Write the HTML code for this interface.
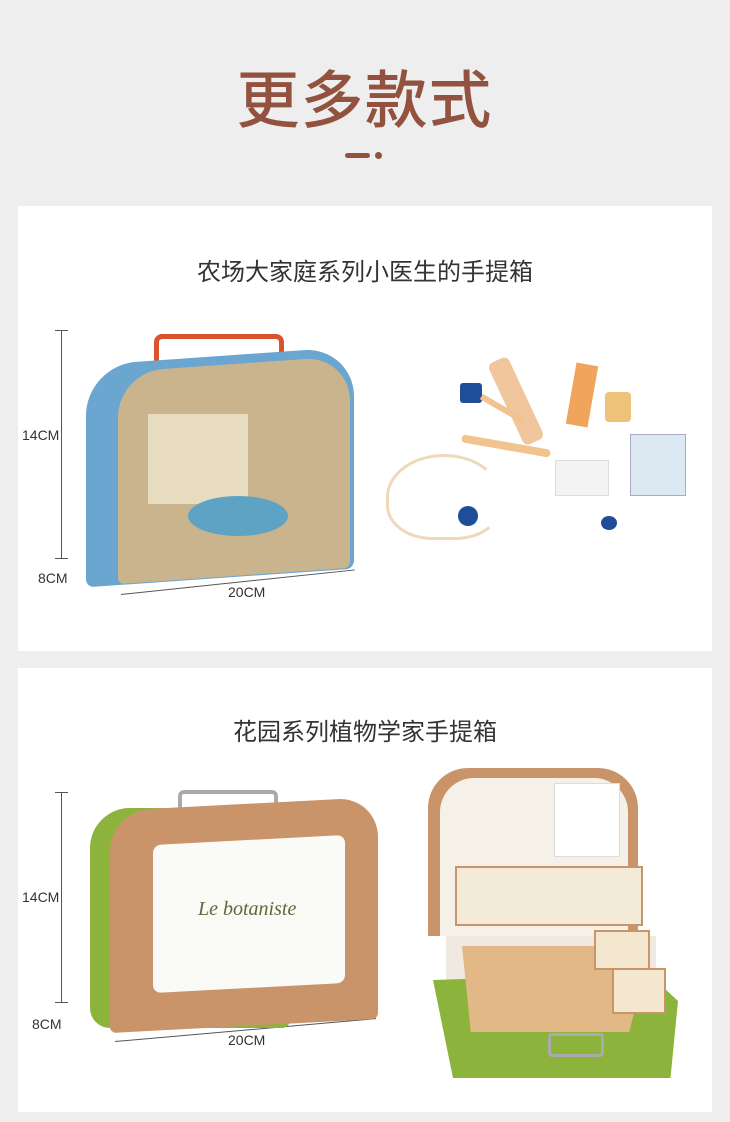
<!DOCTYPE html>
<html><head><meta charset="utf-8"><style>
body{margin:0;width:730px;height:1122px;background:#eeeeee;position:relative;overflow:hidden;font-family:"Liberation Sans","Noto Sans CJK SC",sans-serif}
.a{position:absolute}
.card{position:absolute;left:18px;width:694px;background:#fff}
.h{position:absolute;left:0;width:694px;text-align:center;font-size:24px;color:#333}
.lbl{position:absolute;font-size:14px;color:#333}
.ln{position:absolute;background:#555}
</style></head><body>
<div class="a" style="left:0;top:50px;width:730px;text-align:center;font-size:62px;color:#92523f;letter-spacing:2px;-webkit-text-stroke:1px #92523f">更多款式</div>
<div class="a" style="left:345px;top:153px;width:25px;height:5px;border-radius:3px;background:#92523f"></div>
<div class="a" style="left:375px;top:152px;width:7px;height:7px;border-radius:50%;background:#92523f"></div>

<div class="card" style="top:206px;height:445px">
 <div class="h" style="top:46px">农场大家庭系列小医生的手提箱</div>
 <div class="ln" style="left:43px;top:124px;width:1px;height:228px"></div>
 <div class="ln" style="left:37px;top:124px;width:13px;height:1px"></div>
 <div class="ln" style="left:37px;top:352px;width:13px;height:1px"></div>
 <div class="lbl" style="left:4px;top:221px">14CM</div>
 <div class="lbl" style="left:20px;top:364px">8CM</div>
 <div class="lbl" style="left:210px;top:378px">20CM</div>
 <div class="ln" style="left:103px;top:388px;width:235px;height:1px;transform:rotate(-6deg);transform-origin:left"></div>
 <div class="a" style="left:136px;top:128px;width:120px;height:40px;border:5px solid #d9532e;border-bottom:none;border-radius:8px 8px 0 0"></div>
 <div class="a" style="left:68px;top:150px;width:268px;height:222px;background:#6aa6cf;border-radius:50px 50px 8px 8px;transform:skewY(-4deg)"></div>
 <div class="a" style="left:100px;top:158px;width:232px;height:212px;background:#c9b48e;border-radius:45px 45px 6px 6px;transform:skewY(-4deg)"></div>
 <div class="a" style="left:130px;top:208px;width:100px;height:90px;background:#e7dcc0"></div>
 <div class="a" style="left:170px;top:290px;width:100px;height:40px;background:#5ea3c4;border-radius:50%"></div>
 <div class="a" style="left:487px;top:150px;width:22px;height:90px;background:#f0c69c;border-radius:6px;transform:rotate(-25deg)"></div>
 <div class="a" style="left:553px;top:158px;width:22px;height:62px;background:#f0a55c;transform:rotate(10deg)"></div>
 <div class="a" style="left:587px;top:186px;width:26px;height:30px;background:#efc27a;border-radius:4px"></div>
 <div class="a" style="left:442px;top:177px;width:22px;height:20px;background:#1f4d9a;border-radius:3px"></div>
 <div class="a" style="left:460px;top:200px;width:50px;height:6px;background:#f1c38d;transform:rotate(30deg)"></div>
 <div class="a" style="left:612px;top:228px;width:54px;height:60px;background:#dce9f2;border:1px solid #aac"></div>
 <div class="a" style="left:537px;top:254px;width:52px;height:34px;background:#f3f3f3;border:1px solid #ddd"></div>
 <div class="a" style="left:443px;top:236px;width:90px;height:8px;background:#f1c38d;border-radius:4px;transform:rotate(10deg)"></div>
 <div class="a" style="left:368px;top:248px;width:110px;height:80px;border:3px solid #eed9b8;border-radius:50% 50% 40% 40%;border-right-color:transparent"></div>
 <div class="a" style="left:440px;top:300px;width:20px;height:20px;background:#1f4d9a;border-radius:50%"></div>
 <div class="a" style="left:583px;top:310px;width:16px;height:14px;background:#1f4d9a;border-radius:50%"></div>
</div>

<div class="card" style="top:668px;height:444px">
 <div class="h" style="top:44px">花园系列植物学家手提箱</div>
 <div class="ln" style="left:43px;top:124px;width:1px;height:210px"></div>
 <div class="ln" style="left:37px;top:124px;width:13px;height:1px"></div>
 <div class="ln" style="left:37px;top:334px;width:13px;height:1px"></div>
 <div class="lbl" style="left:4px;top:221px">14CM</div>
 <div class="lbl" style="left:14px;top:348px">8CM</div>
 <div class="lbl" style="left:210px;top:364px">20CM</div>
 <div class="ln" style="left:97px;top:373px;width:262px;height:1px;transform:rotate(-5deg);transform-origin:left"></div>
 <div class="a" style="left:160px;top:122px;width:92px;height:22px;border:4px solid #aaa;border-bottom:none;border-radius:6px 6px 0 0"></div>
 <div class="a" style="left:72px;top:140px;width:200px;height:220px;background:#8cb43c;border-radius:40px 10px 8px 20px"></div>
 <div class="a" style="left:92px;top:136px;width:268px;height:222px;background:#c9946a;border-radius:40px 40px 6px 6px;transform:skewY(-3deg)"></div>
 <div class="a" style="left:135px;top:172px;width:192px;height:148px;background:#fafaf6;border-radius:8px;transform:skewY(-3deg)"></div>
 <div class="a" style="left:180px;top:230px;font-family:'Liberation Serif',serif;font-style:italic;font-size:20px;color:#5a6a3a">Le botaniste</div>
 <div class="a" style="left:410px;top:100px;width:210px;height:168px;background:#c9946a;border-radius:40px 40px 0 0"></div>
 <div class="a" style="left:422px;top:110px;width:188px;height:158px;background:#f6f1e8;border-radius:34px 34px 0 0"></div>
 <div class="a" style="left:536px;top:115px;width:64px;height:72px;background:#fff;border:1px solid #ddd"></div>
 <div class="a" style="left:437px;top:198px;width:184px;height:56px;background:#f4ead8;border:2px solid #c9946a"></div>
 <div class="a" style="left:428px;top:268px;width:210px;height:80px;background:#efe9df"></div>
 <div class="a" style="left:410px;top:270px;width:250px;height:140px;background:#8cb43c;clip-path:polygon(2% 30%,88% 25%,100% 45%,97% 100%,10% 100%)"></div>
 <div class="a" style="left:444px;top:278px;width:176px;height:86px;background:#e2b986;clip-path:polygon(0 0,80% 0,100% 60%,95% 100%,5% 100%)"></div>
 <div class="a" style="left:576px;top:262px;width:52px;height:36px;background:#f3e7d0;border:2px solid #c9946a"></div>
 <div class="a" style="left:594px;top:300px;width:50px;height:42px;background:#f3e7d0;border:2px solid #c9946a"></div>
 <div class="a" style="left:530px;top:365px;width:50px;height:18px;border:3px solid #aaa;border-radius:4px"></div>
</div>
</body></html>
